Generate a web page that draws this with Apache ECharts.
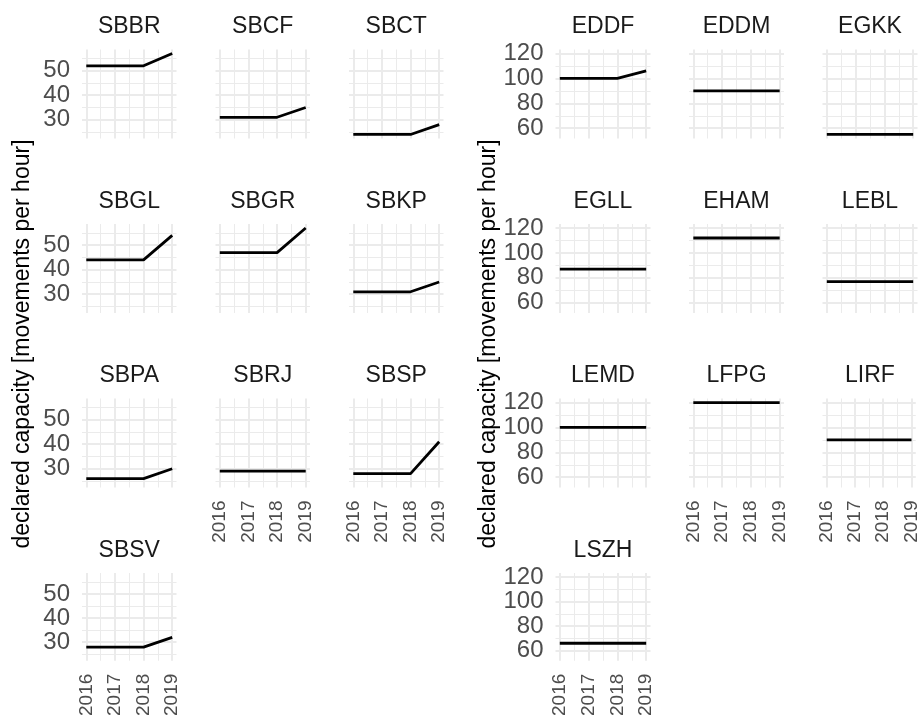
<!DOCTYPE html>
<html>
<head>
<meta charset="utf-8">
<script src="https://cdn.jsdelivr.net/npm/echarts@6/dist/echarts.min.js"></script>
<style>
  html, body { margin: 0; padding: 0; background: #fff; }
  #chart { width: 921px; height: 719px; }
</style>
</head>
<body>
<div id="chart"></div>
<script>
// years on the x axis
const years = [2016, 2017, 2018, 2019];

// Brazilian airports - declared capacity per year
const brAirports = ["SBBR", "SBCF", "SBCT", "SBGL", "SBGR", "SBKP", "SBPA", "SBRJ", "SBSP", "SBSV"];
const sbbr = [52, 52, 52, 57];
const sbcf = [31, 31, 31, 35];
const sbct = [24, 24, 24, 28];
const sbgl = [44, 44, 44, 54];
const sbgr = [47, 47, 47, 57];
const sbkp = [31, 31, 31, 35];
const sbpa = [26, 26, 26, 30];
const sbrj = [29, 29, 29, 29];
const sbsp = [28, 28, 28, 41];
const sbsv = [28, 28, 28, 32];
const brValues = [sbbr, sbcf, sbct, sbgl, sbgr, sbkp, sbpa, sbrj, sbsp, sbsv];

// European airports
const euAirports = ["EDDF", "EDDM", "EGKK", "EGLL", "EHAM", "LEBL", "LEMD", "LFPG", "LIRF", "LSZH"];
const eddf = [100, 100, 100, 106];
const eddm = [90, 90, 90, 90];
const egkk = [55, 55, 55, 55];
const egll = [87, 87, 87, 87];
const eham = [112, 112, 112, 112];
const lebl = [77, 77, 77, 77];
const lemd = [100, 100, 100, 100];
const lfpg = [120, 120, 120, 120];
const lirf = [90, 90, 90, 90];
const lszh = [66, 66, 66, 66];
const euValues = [eddf, eddm, egkk, egll, eham, lebl, lemd, lfpg, lirf, lszh];

const yTitle = "declared capacity [movements per hour]";

const gridColor = "#EBEBEB";
const font = "'Liberation Sans', Arial, sans-serif";
const rowTops = [49.5, 224, 398.5, 573];
const panelH = 89;

// ggplot style expansion: 5% of the data range on each side
function expand(arrs) {
  let lo = Infinity, hi = -Infinity;
  arrs.forEach((a) => a.forEach((v) => { lo = Math.min(lo, v); hi = Math.max(hi, v); }));
  const pad = (hi - lo) * 0.05;
  return [lo - pad, hi + pad];
}
const xPad = (years[years.length - 1] - years[0]) * 0.05;
const xRange = [years[0] - xPad, years[years.length - 1] + xPad];

const option = {
  animation: false,
  backgroundColor: "#fff",
  title: [],
  grid: [],
  xAxis: [],
  yAxis: [],
  series: [],
  graphic: [
    {
      type: "text", x: 23, y: 344, rotation: Math.PI / 2,
      style: { text: yTitle, font: "23px " + font, fill: "#000", align: "center", verticalAlign: "middle" },
    },
    {
      type: "text", x: 489, y: 344, rotation: Math.PI / 2,
      style: { text: yTitle, font: "23px " + font, fill: "#000", align: "center", verticalAlign: "middle" },
    },
  ],
};

function addGroup(names, values, colLefts, panelW, splitY) {
  const yRange = expand(values);
  names.forEach((name, k) => {
    const row = Math.floor(k / 3);
    const col = k % 3;
    const idx = option.grid.length;
    const left = colLefts[col];
    const top = rowTops[row];
    // x labels only on the last panel of each column
    const lastInCol = k + 3 >= names.length;
    option.grid.push({ left: left, top: top, width: panelW, height: panelH, containLabel: false });
    option.title.push({
      text: name,
      left: left + panelW / 2,
      top: top - 34,
      textAlign: "center",
      padding: 0,
      textStyle: { fontFamily: font, fontSize: 23, fontWeight: "normal", color: "#1A1A1A" },
    });
    option.xAxis.push({
      gridIndex: idx,
      type: "value",
      min: xRange[0],
      max: xRange[1],
      splitNumber: 3,
      axisLine: { show: false },
      axisTick: { show: false },
      axisLabel: {
        show: lastInCol,
        rotate: 90,
        margin: 13,
        showMinLabel: false,
        showMaxLabel: false,
        fontFamily: font,
        fontSize: 19,
        color: "#4D4D4D",
        formatter: (v) => (Number.isInteger(v) ? String(v) : ""),
      },
      splitLine: { show: true, showMinLine: false, showMaxLine: false, lineStyle: { color: gridColor, width: 2 } },
      minorTick: { show: false, splitNumber: 2 },
      minorSplitLine: { show: true, lineStyle: { color: gridColor, width: 1 } },
    });
    option.yAxis.push({
      gridIndex: idx,
      type: "value",
      min: yRange[0],
      max: yRange[1],
      splitNumber: splitY,
      axisLine: { show: false },
      axisTick: { show: false },
      axisLabel: {
        show: col === 0,
        margin: 12,
        showMinLabel: false,
        showMaxLabel: false,
        fontFamily: font,
        fontSize: 24,
        color: "#4D4D4D",
        formatter: (v) => (Number.isInteger(v) ? String(v) : ""),
      },
      splitLine: { show: true, showMinLine: false, showMaxLine: false, lineStyle: { color: gridColor, width: 2 } },
      minorTick: { show: false, splitNumber: 2 },
      minorSplitLine: { show: true, lineStyle: { color: gridColor, width: 1 } },
    });
    option.series.push({
      type: "line",
      name: name,
      xAxisIndex: idx,
      yAxisIndex: idx,
      data: years.map((y, j) => [y, values[k][j]]),
      showSymbol: false,
      silent: true,
      lineStyle: { color: "#000", width: 2.8 },
    });
  });
}

addGroup(brAirports, brValues, [82, 215.5, 349], 94.5, 3);
addGroup(euAirports, euValues, [555.5, 689, 822.5], 95, 3);

const chart = echarts.init(document.getElementById("chart"));
chart.setOption(option);
</script>
</body>
</html>
